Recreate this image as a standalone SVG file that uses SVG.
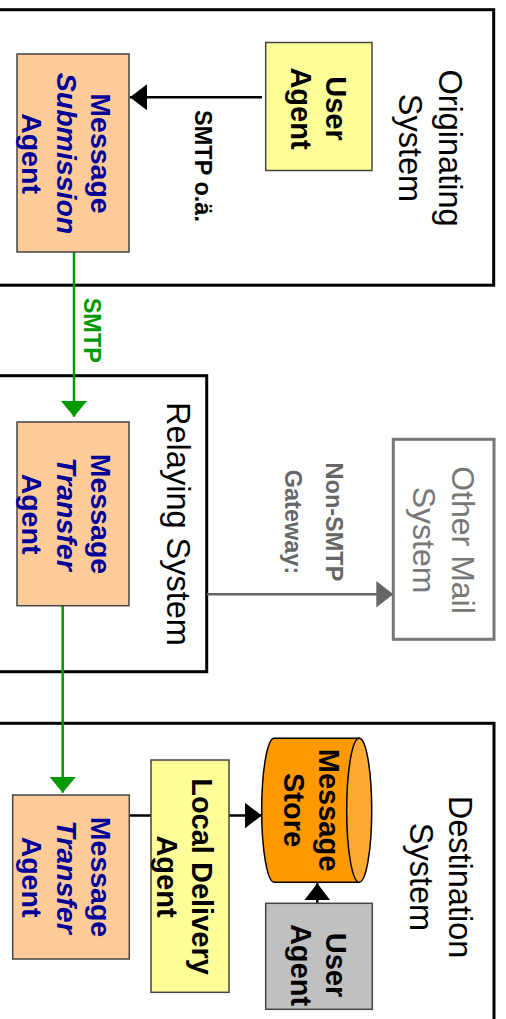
<svg xmlns="http://www.w3.org/2000/svg" width="506" height="1019" viewBox="0 0 506 1019">
<style>
text{font-family:"Liberation Sans",Arial,Helvetica,sans-serif}
.sys{fill:none;stroke:#000;stroke-width:3}
.sysl{font-size:32.5px;fill:#000}
.agent{fill:#ffcc99;stroke:#444;stroke-width:1.5}
.ua{fill:#ffff99;stroke:#444;stroke-width:1.5}
.agt{font-size:28.5px;font-weight:bold;fill:#000099}
.blk{font-size:29px;font-weight:bold;fill:#000}
.lbl{font-size:23.5px;font-weight:bold}
.c-black{stroke:#000;stroke-width:2.5;fill:none}
.c-green{stroke:#009900;stroke-width:2.5;fill:none}
.c-gray{stroke:#666;stroke-width:2.5;fill:none}
</style>
<defs>
<marker id="ah-black" markerUnits="userSpaceOnUse" markerWidth="18" markerHeight="26" refX="17" refY="13" orient="auto"><path d="M0,0 L17,13 L0,26 Z" fill="#000"/></marker>
<marker id="ah-green" markerUnits="userSpaceOnUse" markerWidth="18" markerHeight="27" refX="16" refY="13.3" orient="auto"><path d="M0,0 L16,13.3 L0,26.6 Z" fill="#009900"/></marker>
<marker id="ah-gray" markerUnits="userSpaceOnUse" markerWidth="18" markerHeight="27" refX="17" refY="13.3" orient="auto"><path d="M0,0 L17,13.3 L0,26.6 Z" fill="#666"/></marker>
</defs>
<rect width="506" height="1019" fill="#fff"/>

<g id="originating-system">
<rect class="sys" x="-10" y="9.7" width="503.7" height="275.5"/>
<text class="sysl" font-size="32" text-anchor="middle" transform="translate(439,148) rotate(90)"><tspan x="0">Originating</tspan><tspan x="0" dy="40">System</tspan></text>
</g>
<g id="relaying-system">
<rect class="sys" x="-10" y="375.7" width="216.7" height="296"/>
<text class="sysl" text-anchor="middle" transform="translate(167,524) rotate(90)">Relaying System</text>
</g>
<g id="destination-system">
<rect class="sys" x="-10" y="723.3" width="504" height="330"/>
<text class="sysl" text-anchor="middle" transform="translate(448.5,877) rotate(90)"><tspan x="0">Destination</tspan><tspan x="0" dy="38.5">System</tspan></text>
</g>

<g id="connectors">
<line class="c-black" x1="262" y1="97.3" x2="130" y2="97.3" marker-end="url(#ah-black)"/>
<line class="c-green" x1="74" y1="252" x2="74" y2="416.7" marker-end="url(#ah-green)"/>
<line class="c-green" x1="62.7" y1="606" x2="62.7" y2="792.7" marker-end="url(#ah-green)"/>
<line class="c-gray" x1="207" y1="594.3" x2="393.3" y2="594.3" marker-end="url(#ah-gray)"/>
<line class="c-black" x1="129.3" y1="815.5" x2="151" y2="815.5"/>
<line class="c-black" x1="229" y1="815.5" x2="261.7" y2="815.5" marker-end="url(#ah-black)"/>
<line class="c-black" x1="317.3" y1="903.3" x2="317.3" y2="883.3" marker-end="url(#ah-black)"/>
<text class="lbl" fill="#000" text-anchor="middle" transform="translate(195,166) rotate(90)">SMTP o.ä.</text>
<text class="lbl" fill="#009900" text-anchor="middle" transform="translate(84,330.3) rotate(90)">SMTP</text>
<text class="lbl" fill="#666" font-size="24" text-anchor="middle" transform="translate(326,522) rotate(90)"><tspan x="0">Non-SMTP</tspan><tspan x="0" dy="41.5">Gateway:</tspan></text>
</g>

<g id="user-agent-orig">
<rect class="ua" x="265.7" y="42.5" width="106.3" height="128"/>
<text class="blk" text-anchor="middle" transform="translate(325.5,108.5) rotate(90)"><tspan x="0">User</tspan><tspan x="0" dy="34.5">Agent</tspan></text>
</g>
<g id="msa">
<rect class="agent" x="17" y="54" width="112" height="198"/>
<text class="agt" text-anchor="middle" transform="translate(91,153.5) rotate(90)"><tspan x="0">Message</tspan><tspan x="0" dy="34.5" font-style="italic">Submission</tspan><tspan x="0" dy="34.5">Agent</tspan></text>
</g>
<g id="mta-relay">
<rect class="agent" x="17" y="422" width="112" height="183.7"/>
<text class="agt" text-anchor="middle" transform="translate(91,514) rotate(90)"><tspan x="0">Message</tspan><tspan x="0" dy="34.5" font-style="italic">Transfer</tspan><tspan x="0" dy="34.5">Agent</tspan></text>
</g>
<g id="other-mail-system">
<rect x="393.3" y="439.3" width="100.7" height="200" fill="#fff" stroke="#777" stroke-width="3"/>
<text font-size="32" fill="#777" text-anchor="middle" transform="translate(452,540) rotate(90)"><tspan x="0">Other Mail</tspan><tspan x="0" dy="39">System</tspan></text>
</g>
<g id="mta-dest">
<rect class="agent" x="12.7" y="795" width="116.6" height="164"/>
<text class="agt" text-anchor="middle" transform="translate(91,877) rotate(90)"><tspan x="0">Message</tspan><tspan x="0" dy="34.5" font-style="italic">Transfer</tspan><tspan x="0" dy="34.5">Agent</tspan></text>
</g>
<g id="local-delivery-agent">
<rect class="ua" x="151" y="760" width="78" height="232.3"/>
<text class="blk" text-anchor="middle" transform="translate(191.5,876.5) rotate(90)"><tspan x="0">Local Delivery</tspan><tspan x="0" dy="35">Agent</tspan></text>
</g>
<g id="message-store">
<path d="M359.2,738.3 L274.2,738.3 A12.5,72 0 0 0 274.2,882.3 L359.2,882.3 Z" fill="#ff9900" stroke="#000" stroke-width="1.5"/>
<ellipse cx="359.2" cy="810.3" rx="12.5" ry="72" fill="#ffaa33" stroke="#000" stroke-width="1.5"/>
<text class="blk" font-size="28.5" text-anchor="middle" transform="translate(318.5,810) rotate(90)"><tspan x="0">Message</tspan><tspan x="0" dy="35">Store</tspan></text>
</g>
<g id="user-agent-dest">
<rect x="265.7" y="903.3" width="106.6" height="106" fill="#c0c0c0" stroke="#444" stroke-width="1.5"/>
<text class="blk" text-anchor="middle" transform="translate(325.5,965) rotate(90)"><tspan x="0">User</tspan><tspan x="0" dy="34.5">Agent</tspan></text>
</g>
</svg>
